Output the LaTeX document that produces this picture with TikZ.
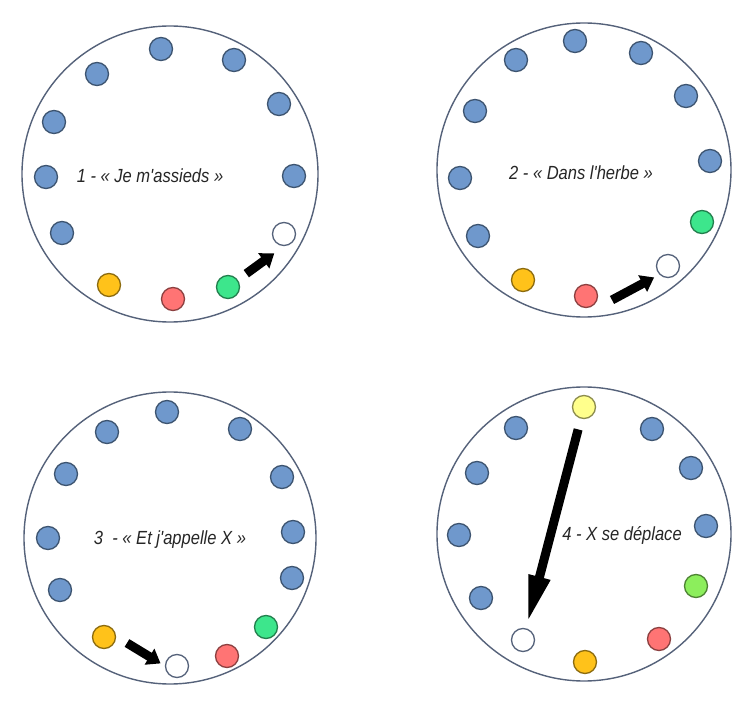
\documentclass[tikz,border=0pt]{standalone}
\usepackage{fontspec}
\setmainfont{Liberation Sans}
\usetikzlibrary{arrows.meta}
\definecolor{ringgray}{HTML}{55627A}
\definecolor{dotblue}{HTML}{6F98CC}
\definecolor{dotyellow}{HTML}{FFC21A}
\definecolor{dotred}{HTML}{FF7474}
\definecolor{dotgreen}{HTML}{3DE68C}
\definecolor{dotpale}{HTML}{FFFF8C}
\definecolor{dotlime}{HTML}{8CEE5C}
\begin{document}
\begin{tikzpicture}[x=0.5pt, y=-0.5pt,
  ring/.style={draw=ringgray, line width=0.7pt},
  seat/.style={circle, line width=0.65pt, minimum size=11.5pt, inner sep=0pt},
  kid/.style={seat, fill=#1, draw=#1!55!black},
  empty/.style={seat, fill=white, draw=ringgray},
  saying/.style={font=\fontsize{9.5}{11}\selectfont\itshape, xscale=0.87, text=black!85},
  hop/.style={line width=4.5pt, -{Triangle[length=6.5pt, width=9pt]}},
  bighop/.style={line width=4.5pt, -{Triangle[length=24pt, width=10pt]}}]
  \useasboundingbox (0,0) rectangle (735,701);
  \fill[white] (0,0) rectangle (735,701);

  \draw[ring] (170,174) circle (148);
  \foreach \p [count=\i] in {(161,49),(234,60),(97,74),(279,104),(54,122),(46,177),(294,176),(62,233)}
    \node[kid=dotblue] (a\i) at \p {};
  \node[empty] (w1) at (284,234) {};
  \node[kid=dotyellow] (y1) at (109,285) {};
  \node[kid=dotred] (r1) at (173,299) {};
  \node[kid=dotgreen] (g1) at (228,287) {};
  \node[saying] (t1) at (150,176) {1 - « Je m\textquotesingle assieds »};
  \draw[hop, shorten <=5.25pt, shorten >=6pt] (g1) -- (w1.south);

  \draw[ring] (584,170) circle (147);
  \foreach \p [count=\i] in {(575,41),(641,53),(516,60),(686,96),(475,111),(710,161),(460,178),(478,236)}
    \node[kid=dotblue] (b\i) at \p {};
  \node[kid=dotgreen] (g2) at (702,222) {};
  \node[empty] (w2) at (668,266) {};
  \node[kid=dotyellow] (y2) at (523,280) {};
  \node[kid=dotred] (r2) at (586,296) {};
  \node[saying] (t2) at (581,173) {2 - « Dans l\textquotesingle herbe »};
  \coordinate (s2) at (612,300);
  \draw[hop, shorten >=3pt] (s2) -- (w2.south west);

  \draw[ring] (170,538) circle (146);
  \foreach \p [count=\i] in {(167,412),(107,432),(240,429),(66,474),(282,477),(48,538),(293,532),(60,590),(292,578)}
    \node[kid=dotblue] (c\i) at \p {};
  \node[kid=dotgreen] (g3) at (266,627) {};
  \node[kid=dotyellow] (y3) at (104,637) {};
  \node[kid=dotred] (r3) at (227,656) {};
  \node[empty] (w3) at (177,666) {};
  \node[saying] (t3) at (170,540) {3\ \ - « Et j\textquotesingle appelle X »};
  \coordinate (s3) at (127,643);
  \draw[hop, shorten >=2.5pt] (s3) -- (w3.west);

  \draw[ring] (584,534) circle (147);
  \node[kid=dotpale] (x4) at (584,407) {};
  \foreach \p [count=\i] in {(516,428),(652,429),(477,473),(691,468),(459,535),(706,526),(481,598)}
    \node[kid=dotblue] (d\i) at \p {};
  \node[kid=dotlime] (g4) at (696,586) {};
  \node[kid=dotred] (r4) at (659,639) {};
  \node[empty] (w4) at (523,640) {};
  \node[kid=dotyellow] (y4) at (585,662) {};
  \node[saying] (t4) at (622,535) {4 - X se déplace};
  \draw[bighop, shorten <=5.5pt, shorten >=2.5pt] (x4) -- (w4);
\end{tikzpicture}
\end{document}
